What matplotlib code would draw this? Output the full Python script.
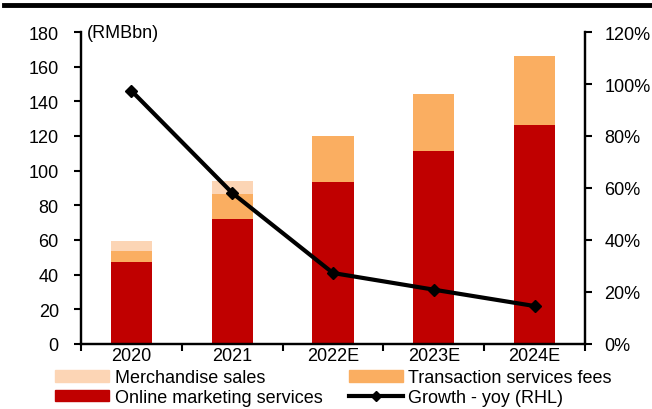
import matplotlib
matplotlib.use("Agg")
import matplotlib.pyplot as plt
from matplotlib.patches import Patch
from matplotlib.lines import Line2D
import numpy as np

plt.rcParams['font.family'] = ['Liberation Sans', 'DejaVu Sans']
plt.rcParams['font.size'] = 13

# revenue breakdown, RMB bn
years = ["2020", "2021", "2022E", "2023E", "2024E"]
online_marketing = [47.5, 72.1, 93.6, 111.4, 126.4]
transaction_fees = [6.2, 14.6, 26.2, 32.9, 39.8]
merchandise_sales = [5.9, 7.2, 0.0, 0.0, 0.0]
growth_yoy = [97.4, 58.1, 27.3, 20.9, 14.6]  # percent

RED = "#C00000"
ORANGE = "#FAAE61"
PEACH = "#FCD5B5"

fig = plt.figure(figsize=(6.52, 4.10), dpi=100)
ax = fig.add_axes([81 / 652, 1 - 345 / 410, 504 / 652, 312 / 410])
ax2 = ax.twinx()

x = np.arange(len(years))
w = 0.41
bottom2 = np.array(online_marketing)
bottom3 = bottom2 + np.array(transaction_fees)
ax.bar(x, online_marketing, w, color=RED, linewidth=0, zorder=2)
ax.bar(x, transaction_fees, w, bottom=bottom2, color=ORANGE, linewidth=0, zorder=2)
ax.bar(x, merchandise_sales, w, bottom=bottom3, color=PEACH, linewidth=0, zorder=2)

ax2.plot(x, growth_yoy, color="black", lw=3, marker="D", ms=6, zorder=3)

ax.set_xlim(-0.5, len(years) - 0.5)
ax.set_ylim(0, 180)
ax.set_yticks(range(0, 181, 20))
ax2.set_ylim(0, 120)
ax2.set_yticks(range(0, 121, 20))
ax2.set_yticklabels([f"{v}%" for v in range(0, 121, 20)])

ax.set_xticks(x)
ax.set_xticklabels(years)
ax.set_xticks(np.arange(-0.5, len(years)), minor=True)
ax.tick_params(axis="x", which="major", length=0, pad=2)
ax.tick_params(axis="x", which="minor", length=5, width=1.5, direction="out")
ax.tick_params(axis="y", length=5, width=1.5, direction="out", pad=11)
ax2.tick_params(axis="y", length=5, width=1.5, direction="out", pad=9)

for a in (ax, ax2):
    a.spines["top"].set_visible(False)
    for s in ("left", "right", "bottom"):
        a.spines[s].set_linewidth(1.6)
ax.set_zorder(ax2.get_zorder() - 1)
ax2.patch.set_visible(False)

ax.text(0.012, 1.0, "(RMBbn)", transform=ax.transAxes, ha="left", va="center")

handles = [
    Patch(color=PEACH, label="Merchandise sales"),
    Patch(color=RED, label="Online marketing services"),
    Patch(color=ORANGE, label="Transaction services fees"),
    Line2D([], [], color="black", lw=3, marker="D", ms=5, label="Growth - yoy (RHL)"),
]
fig.legend(handles=handles, ncol=2, loc="lower left", bbox_to_anchor=(55 / 652, 3 / 410),
           frameon=False, handlelength=3.0, handleheight=0.6, handletextpad=0.3,
           columnspacing=1.45, labelspacing=0.15, borderpad=0.0, borderaxespad=0.0)

# heavy rule along the top edge
fig.add_artist(Line2D([4 / 652, 1], [1 - 6 / 410, 1 - 6 / 410], color="black", lw=3.5))

fig.savefig("out.png", dpi=100)
